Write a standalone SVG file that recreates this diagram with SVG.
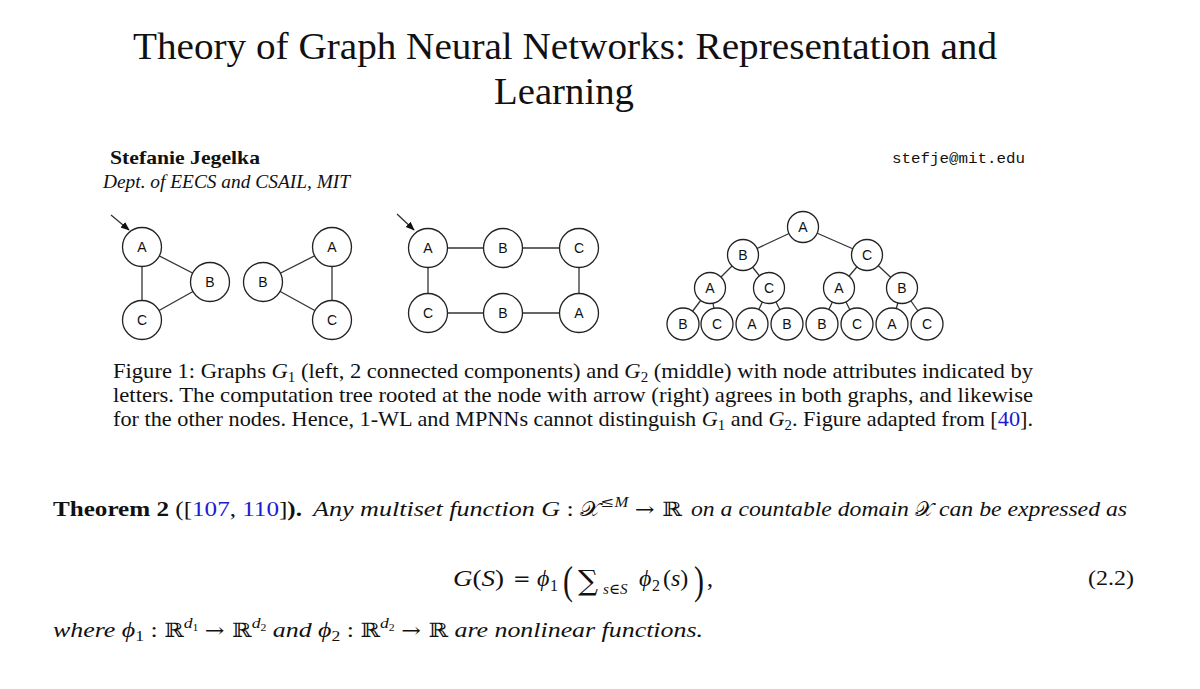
<svg xmlns="http://www.w3.org/2000/svg" width="1200" height="689" viewBox="0 0 1200 689">
<defs>
<marker id="ah" viewBox="0 0 10 10" refX="9" refY="5" markerWidth="9" markerHeight="9" markerUnits="userSpaceOnUse" orient="auto"><path d="M0,1 L10,5 L0,9 z" fill="#111"/></marker>
</defs>
<style>
.t{font-family:"Liberation Serif","Times New Roman",serif;fill:#111}
.i{font-style:italic}
.b{font-weight:bold}
.lk{fill:#1a1ad2}
.m{font-family:"DejaVu Serif","Liberation Serif",serif;font-style:normal}
.n circle{fill:#fff;stroke:#222;stroke-width:1.3}
.n text{font-family:"Liberation Sans",Arial,sans-serif;font-size:14px;text-anchor:middle;fill:#111}
.e line{stroke:#333;stroke-width:1.3}
.ar{stroke:#111;stroke-width:1.3;marker-end:url(#ah)}
</style>
<rect width="1200" height="689" fill="#fff"/>

<!-- title -->
<text class="t" x="133" y="59" font-size="37" textLength="864" lengthAdjust="spacingAndGlyphs">Theory of Graph Neural Networks: Representation and</text>
<text class="t" x="494" y="104" font-size="37" textLength="140" lengthAdjust="spacingAndGlyphs">Learning</text>

<!-- author -->
<text class="t b" x="110" y="164" font-size="19" textLength="150" lengthAdjust="spacingAndGlyphs">Stefanie Jegelka</text>
<text class="t i" x="103" y="188" font-size="18" textLength="247" lengthAdjust="spacingAndGlyphs">Dept. of EECS and CSAIL, MIT</text>
<text x="892" y="163" font-family="Liberation Mono,monospace" font-size="15.5" fill="#111" textLength="133" lengthAdjust="spacingAndGlyphs">stefje@mit.edu</text>

<!-- connectors -->
<g id="connectors" class="e">
  <line x1="142" y1="247" x2="210" y2="282"/>
  <line x1="142" y1="247" x2="142" y2="320"/>
  <line x1="210" y1="282" x2="142" y2="320"/>
  <line x1="263" y1="282" x2="332" y2="247"/>
  <line x1="263" y1="282" x2="332" y2="320"/>
  <line x1="332" y1="247" x2="332" y2="320"/>
  <line x1="428" y1="248" x2="579" y2="248"/>
  <line x1="428" y1="248" x2="428" y2="313"/>
  <line x1="579" y1="248" x2="579" y2="313"/>
  <line x1="428" y1="313" x2="579" y2="313"/>
  <line x1="803" y1="227" x2="743" y2="255"/>
  <line x1="803" y1="227" x2="867" y2="255"/>
  <line x1="743" y1="255" x2="710" y2="288"/>
  <line x1="743" y1="255" x2="769" y2="288"/>
  <line x1="867" y1="255" x2="839" y2="288"/>
  <line x1="867" y1="255" x2="902" y2="288"/>
  <line x1="710" y1="288" x2="683" y2="324"/>
  <line x1="710" y1="288" x2="717" y2="324"/>
  <line x1="769" y1="288" x2="752" y2="324"/>
  <line x1="769" y1="288" x2="787" y2="324"/>
  <line x1="839" y1="288" x2="822" y2="324"/>
  <line x1="839" y1="288" x2="857" y2="324"/>
  <line x1="902" y1="288" x2="892" y2="324"/>
  <line x1="902" y1="288" x2="927" y2="324"/>
  <line class="ar" x1="111" y1="215" x2="129" y2="230"/>
  <line class="ar" x1="397" y1="214" x2="414" y2="230"/>
</g>

<!-- graph G1 -->
<g id="g1-a" class="n"><circle cx="142" cy="247" r="19.5"/><text x="142" y="252">A</text></g>
<g id="g1-b" class="n"><circle cx="210" cy="282" r="19.5"/><text x="210" y="287">B</text></g>
<g id="g1-c" class="n"><circle cx="142" cy="320" r="19.5"/><text x="142" y="325">C</text></g>
<g id="g1-b2" class="n"><circle cx="263" cy="282" r="19.5"/><text x="263" y="287">B</text></g>
<g id="g1-a2" class="n"><circle cx="332" cy="247" r="19.5"/><text x="332" y="252">A</text></g>
<g id="g1-c2" class="n"><circle cx="332" cy="320" r="19.5"/><text x="332" y="325">C</text></g>

<!-- graph G2 -->
<g id="g2-a" class="n"><circle cx="428" cy="248" r="19.5"/><text x="428" y="253">A</text></g>
<g id="g2-b" class="n"><circle cx="503" cy="248" r="19.5"/><text x="503" y="253">B</text></g>
<g id="g2-c" class="n"><circle cx="579" cy="248" r="19.5"/><text x="579" y="253">C</text></g>
<g id="g2-c2" class="n"><circle cx="428" cy="313" r="19.5"/><text x="428" y="318">C</text></g>
<g id="g2-b2" class="n"><circle cx="503" cy="313" r="19.5"/><text x="503" y="318">B</text></g>
<g id="g2-a2" class="n"><circle cx="579" cy="313" r="19.5"/><text x="579" y="318">A</text></g>

<!-- computation tree -->
<g id="t-root" class="n"><circle cx="803" cy="227" r="15.5"/><text x="803" y="232">A</text></g>
<g id="t-b" class="n"><circle cx="743" cy="255" r="15.5"/><text x="743" y="260">B</text></g>
<g id="t-c" class="n"><circle cx="867" cy="255" r="15.5"/><text x="867" y="260">C</text></g>
<g id="t-ba" class="n"><circle cx="710" cy="288" r="15.5"/><text x="710" y="293">A</text></g>
<g id="t-bc" class="n"><circle cx="769" cy="288" r="15.5"/><text x="769" y="293">C</text></g>
<g id="t-ca" class="n"><circle cx="839" cy="288" r="15.5"/><text x="839" y="293">A</text></g>
<g id="t-cb" class="n"><circle cx="902" cy="288" r="15.5"/><text x="902" y="293">B</text></g>
<g id="t-l1" class="n"><circle cx="683" cy="324" r="16"/><text x="683" y="329">B</text></g>
<g id="t-l2" class="n"><circle cx="717" cy="324" r="16"/><text x="717" y="329">C</text></g>
<g id="t-l3" class="n"><circle cx="752" cy="324" r="16"/><text x="752" y="329">A</text></g>
<g id="t-l4" class="n"><circle cx="787" cy="324" r="16"/><text x="787" y="329">B</text></g>
<g id="t-l5" class="n"><circle cx="822" cy="324" r="16"/><text x="822" y="329">B</text></g>
<g id="t-l6" class="n"><circle cx="857" cy="324" r="16"/><text x="857" y="329">C</text></g>
<g id="t-l7" class="n"><circle cx="892" cy="324" r="16"/><text x="892" y="329">A</text></g>
<g id="t-l8" class="n"><circle cx="927" cy="324" r="16"/><text x="927" y="329">C</text></g>

<!-- caption -->
<g class="t" font-size="21">
  <text x="113" y="378" textLength="920" lengthAdjust="spacingAndGlyphs">Figure 1: Graphs <tspan class="i">G</tspan><tspan font-size="14" dy="4">1</tspan><tspan dy="-4"> (left, 2 connected components) and </tspan><tspan class="i">G</tspan><tspan font-size="14" dy="4">2</tspan><tspan dy="-4"> (middle) with node attributes indicated by</tspan></text>
  <text x="113" y="402" textLength="920" lengthAdjust="spacingAndGlyphs">letters. The computation tree rooted at the node with arrow (right) agrees in both graphs, and likewise</text>
  <text x="113" y="426" textLength="920" lengthAdjust="spacingAndGlyphs">for the other nodes. Hence, 1-WL and MPNNs cannot distinguish <tspan class="i">G</tspan><tspan font-size="14" dy="4">1</tspan><tspan dy="-4"> and </tspan><tspan class="i">G</tspan><tspan font-size="14" dy="4">2</tspan><tspan dy="-4">. Figure adapted from [</tspan><tspan class="lk">40</tspan>].</text>
</g>

<!-- theorem -->
<g class="t" font-size="22">
  <text x="53" y="516" textLength="249" lengthAdjust="spacingAndGlyphs"><tspan class="b">Theorem 2</tspan> ([<tspan class="lk">107</tspan>, <tspan class="lk">110</tspan>]<tspan class="b">).</tspan></text>
  <text x="313" y="516" textLength="369" lengthAdjust="spacingAndGlyphs"><tspan class="i">Any multiset function G</tspan> : <tspan class="m" font-size="20">𝒳</tspan><tspan font-size="14" dy="-9"><tspan class="m">≤</tspan><tspan class="i">M</tspan></tspan><tspan dy="9"> </tspan><tspan class="m" font-size="20">→ ℝ</tspan></text>
  <text x="691" y="516" textLength="436" lengthAdjust="spacingAndGlyphs"><tspan class="i">on a countable domain </tspan><tspan class="m" font-size="20">𝒳</tspan><tspan class="i"> can be expressed as</tspan></text>
</g>

<!-- formula -->
<g class="t" font-size="24">
  <text x="453" y="586" textLength="51" lengthAdjust="spacingAndGlyphs"><tspan class="i">G</tspan>(<tspan class="i">S</tspan>)</text>
  <text x="513" y="586" class="m" font-size="21">=</text>
  <text x="537" y="586" class="i">ϕ</text>
  <text x="550" y="591" font-size="16">1</text>
  <text x="563" y="594" font-size="40" transform="translate(563 594) scale(0.75 1) translate(-563 -594)">(</text>
  <text x="578" y="590" class="m" font-size="28">∑</text>
  <text x="603" y="594" font-size="15"><tspan class="i">s</tspan><tspan class="m">∈</tspan><tspan class="i">S</tspan></text>
  <text x="639" y="586" class="i">ϕ</text>
  <text x="652" y="591" font-size="16">2</text>
  <text x="663" y="586">(<tspan class="i">s</tspan>)</text>
  <text x="694" y="594" font-size="40" transform="translate(694 594) scale(0.75 1) translate(-694 -594)">)</text>
  <text x="707" y="586">,</text>
  <text x="1088" y="585" font-size="22" textLength="46" lengthAdjust="spacingAndGlyphs">(2.2)</text>
</g>

<!-- last line -->
<g class="t" font-size="22">
  <text x="53" y="637" textLength="650" lengthAdjust="spacingAndGlyphs"><tspan class="i">where ϕ</tspan><tspan font-size="15" dy="4">1</tspan><tspan dy="-4"> : </tspan><tspan class="m" font-size="20">ℝ</tspan><tspan class="i" font-size="15" dy="-9">d</tspan><tspan font-size="10" dy="3">1</tspan><tspan dy="6"> </tspan><tspan class="m" font-size="20">→ ℝ</tspan><tspan class="i" font-size="15" dy="-9">d</tspan><tspan font-size="10" dy="3">2</tspan><tspan class="i" dy="6"> and ϕ</tspan><tspan font-size="15" dy="4">2</tspan><tspan dy="-4"> : </tspan><tspan class="m" font-size="20">ℝ</tspan><tspan class="i" font-size="15" dy="-9">d</tspan><tspan font-size="10" dy="3">2</tspan><tspan dy="6"> </tspan><tspan class="m" font-size="20">→ ℝ</tspan><tspan class="i"> are nonlinear functions.</tspan></text>
</g>
</svg>
